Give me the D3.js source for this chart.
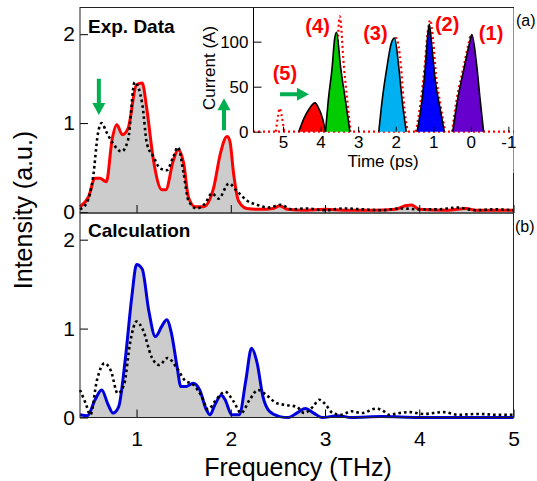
<!DOCTYPE html>
<html>
<head>
<meta charset="utf-8">
<script src="https://cdn.jsdelivr.net/npm/d3@7"></script>
<style>
body { margin: 0; background: #fff; }
svg { display: block; font-family: "Liberation Sans", Arial, sans-serif; }
</style>
</head>
<body>
<svg></svg>
<script>
// (a) measured spectrum (red) and reference (dotted)
var expFreq = [0.40,0.49,0.56,0.61,0.68,0.74,0.79,0.85,0.91,1.00,1.06,1.11,1.18,1.27,1.31,1.39,1.44,1.50,1.55,1.62,1.71,1.82,1.89,1.96,1.99,2.03,2.08,2.17,2.30,2.45,2.52,2.60,2.80,3.00,3.20,3.50,3.75,3.85,3.92,4.00,4.30,4.50,4.60,5.00];
var expRed  = [0.06,0.17,0.38,0.38,0.34,0.81,0.98,0.87,0.94,1.43,1.45,1.15,0.58,0.25,0.25,0.58,0.70,0.55,0.17,0.06,0.06,0.28,0.66,0.85,0.80,0.43,0.13,0.04,0.03,0.04,0.07,0.03,0.02,0.03,0.02,0.02,0.03,0.07,0.08,0.03,0.02,0.04,0.02,0.02];
var expRefFreq = [0.40,0.47,0.54,0.59,0.63,0.68,0.75,0.84,0.91,0.98,1.06,1.11,1.18,1.25,1.32,1.39,1.44,1.50,1.55,1.64,1.73,1.80,1.87,1.98,2.07,2.17,2.28,2.40,2.53,2.65,2.80,3.00,3.20,3.40,3.60,3.80,4.00,4.20,4.40,4.60,4.80,5.00];
var expRef     = [0.03,0.10,0.40,0.88,1.00,0.90,0.77,0.68,0.81,1.46,1.22,0.77,0.62,0.49,0.47,0.62,0.73,0.43,0.13,0.04,0.10,0.21,0.15,0.32,0.23,0.13,0.08,0.05,0.08,0.03,0.04,0.02,0.04,0.03,0.02,0.04,0.03,0.03,0.05,0.02,0.03,0.02];

// (b) calculated spectrum (blue) and reference (dotted)
var calcFreq = [0.40,0.48,0.56,0.63,0.70,0.75,0.81,0.88,0.95,1.00,1.06,1.13,1.20,1.27,1.32,1.37,1.43,1.47,1.53,1.60,1.67,1.74,1.78,1.83,1.90,1.94,2.01,2.09,2.16,2.22,2.28,2.34,2.41,2.52,2.61,2.70,2.79,2.88,2.97,3.14,3.28,3.60,4.00,5.00];
var calcBlue = [0.03,0.02,0.20,0.31,0.14,0.05,0.12,0.65,1.36,1.72,1.67,1.20,0.91,1.03,1.10,0.95,0.57,0.35,0.35,0.385,0.31,0.09,0.03,0.14,0.25,0.20,0.03,0.03,0.42,0.78,0.61,0.24,0.07,0.01,0.00,0.05,0.10,0.05,0.00,0.02,0.00,0.01,0.00,0.00];
var calcRefFreq = [0.40,0.46,0.51,0.58,0.66,0.73,0.80,0.87,0.93,1.00,1.07,1.16,1.24,1.33,1.42,1.51,1.60,1.69,1.76,1.83,1.94,2.03,2.11,2.20,2.29,2.38,2.49,2.59,2.70,2.78,2.87,2.94,3.01,3.08,3.17,3.28,3.39,3.54,3.61,3.68,3.79,3.90,4.04,4.26,4.41,4.62,4.84,5.00];
var calcRef     = [0.31,0.16,0.03,0.42,0.61,0.52,0.27,0.38,0.83,1.08,0.98,0.68,0.59,0.67,0.57,0.42,0.37,0.24,0.09,0.18,0.29,0.18,0.05,0.20,0.31,0.25,0.16,0.14,0.12,0.05,0.12,0.20,0.14,0.05,0.03,0.07,0.05,0.10,0.08,0.03,0.05,0.06,0.04,0.06,0.03,0.04,0.03,0.03];

// inset: current profiles [time ps, current A]
var redPulse    = [[4.58,0],[4.44,15],[4.31,25],[4.15,32],[4.04,25],[3.95,15],[3.87,0]];
var greenPulse  = [[3.87,0],[3.795,35],[3.69,72.6],[3.63,102],[3.575,110.4],[3.47,72.6],[3.34,35],[3.22,0]];
var cyanPulse   = [[2.45,0],[2.36,35],[2.23,72.6],[2.12,98],[2.03,104],[1.92,72.6],[1.83,35],[1.72,0]];
var bluePulse   = [[1.43,0],[1.30,35],[1.21,72.6],[1.15,106],[1.105,119.7],[1.035,94],[0.947,57.4],[0.81,24],[0.707,0]];
var violetPulse = [[0.48,0],[0.354,35],[0.168,72.6],[0.036,98],[-0.028,108],[-0.16,72.6],[-0.25,35],[-0.34,0]];
var meas5 = [[5.19,0],[5.13,18.5],[5.09,26],[5.04,18.5],[4.97,0]];
var meas4 = [[3.62,0],[3.58,60],[3.53,110],[3.49,128],[3.38,72.6],[3.29,35],[3.20,0]];
var meas3 = [[2.42,0],[2.30,40],[2.15,88],[1.99,104],[1.86,72.6],[1.79,35],[1.68,0]];
var meas2 = [[1.46,0],[1.33,35],[1.23,72.6],[1.15,110],[1.08,124],[1.00,100],[0.93,65],[0.80,28],[0.68,0]];
var meas1 = [[0.50,0],[0.38,35],[0.19,72.6],[0.06,98],[-0.01,108],[-0.10,85],[-0.20,40],[-0.30,0]];
var measBase = [[5.8,0],[-1.15,0]];

var pulseLabels = ['(1)','(2)','(3)','(4)','(5)'];
var freqTicks = [1,2,3,4,5];
var intTicks = [0,1,2];
var timeTicks = [5,4,3,2,1,0,-1];
var currTicks = [0,50,100];

var width = 537, height = 481;
var svg = d3.select('svg').attr('width', width).attr('height', height);

var x = d3.scaleLinear().domain([0.4, 5]).range([80, 513.5]);
var yA = d3.scaleLinear().domain([0, 2.3]).range([212, 7.5]);
var yB = d3.scaleLinear().domain([0, 2.3]).range([417.5, 213]);
var xi = d3.scaleLinear().domain([5.8, -1.15]).range([253, 514]);
var yi = d3.scaleLinear().domain([0, 137.4]).range([131.7, 8]);

var green = '#00b050';
var plain = d => String(d).replace('\u2212', '-');

function zip(a, b) { return a.map((d, i) => [d, b[i]]); }

function panel(y, freq, vals, refFreq, ref, color) {
  var g = svg.append('g');
  var pts = zip(freq, vals);
  g.append('path')
    .attr('fill', '#cccccc')
    .attr('d', d3.area().x(d => x(d[0])).y0(y(0)).y1(d => y(d[1])).curve(d3.curveMonotoneX)(pts));
  g.append('path')
    .attr('fill', 'none')
    .attr('stroke', color)
    .attr('stroke-width', 3)
    .attr('d', d3.line().x(d => x(d[0])).y(d => y(d[1])).curve(d3.curveMonotoneX)(pts));
  g.append('path')
    .attr('fill', 'none')
    .attr('stroke', '#000')
    .attr('stroke-width', 2.6)
    .attr('stroke-dasharray', '2.6,3')
    .attr('d', d3.line().x(d => x(d[0])).y(d => y(d[1])).curve(d3.curveMonotoneX)(zip(refFreq, ref)));

  var ya = g.append('g')
    .attr('transform', 'translate(80,0)')
    .call(d3.axisLeft(y).tickValues(intTicks).tickSize(-8).tickPadding(5).tickFormat(plain));
  ya.select('.domain').remove();
  ya.selectAll('text').style('font-size', '21px').attr('fill', '#000');
  return g;
}

panel(yA, expFreq, expRed, expRefFreq, expRef, '#ff0000');
panel(yB, calcFreq, calcBlue, calcRefFreq, calcRef, '#0000dd');

// x axes
var xa = svg.append('g')
  .attr('transform', 'translate(0,' + 213 + ')')
  .call(d3.axisBottom(x).tickValues(freqTicks).tickSize(-8).tickFormat(''));
xa.select('.domain').remove();
var xb = svg.append('g')
  .attr('transform', 'translate(0,' + 417.5 + ')')
  .call(d3.axisBottom(x).tickValues(freqTicks).tickSize(-8).tickPadding(14).tickFormat(plain));
xb.select('.domain').remove();
xb.selectAll('text').style('font-size', '21px').attr('fill', '#000');

// frames
svg.append('rect').attr('x', 80).attr('y', 7.5).attr('width', 433.5).attr('height', 205.5)
  .attr('fill', 'none').attr('stroke', '#222');
svg.append('rect').attr('x', 80).attr('y', 213).attr('width', 433.5).attr('height', 204.5)
  .attr('fill', 'none').attr('stroke', '#222');

// titles
svg.append('text').attr('x', 298).attr('y', 476).attr('text-anchor', 'middle')
  .style('font-size', '25px').text('Frequency (THz)');
svg.append('text').attr('transform', 'translate(32,210) rotate(-90)').attr('text-anchor', 'middle')
  .style('font-size', '25px').text('Intensity (a.u.)');
svg.append('text').attr('x', 88).attr('y', 33).style('font-size', '19px').style('font-weight', 'bold').text('Exp. Data');
svg.append('text').attr('x', 88).attr('y', 237).style('font-size', '19px').style('font-weight', 'bold').text('Calculation');
svg.append('text').attr('x', 516).attr('y', 26).style('font-size', '16px').text('(a)');
svg.append('text').attr('x', 515).attr('y', 232).style('font-size', '16px').text('(b)');

// inset
var inset = svg.append('g');
inset.append('rect').attr('x', 253.5).attr('y', 8).attr('width', 260).attr('height', 165).attr('fill', '#fff');

var iline = d3.line().x(d => xi(d[0])).y(d => yi(d[1])).curve(d3.curveMonotoneX);
var iarea = d3.area().x(d => xi(d[0])).y0(yi(0)).y1(d => yi(d[1])).curve(d3.curveMonotoneX);

[measBase, meas5, meas4, meas3, meas2, meas1].forEach(function(m) {
  inset.append('path')
    .attr('fill', 'none')
    .attr('stroke', '#ff0000')
    .attr('stroke-width', 2.2)
    .attr('stroke-dasharray', '2,3')
    .attr('d', iline(m));
});

var pulses = [redPulse, greenPulse, cyanPulse, bluePulse, violetPulse];
var pulseColors = ['#ff0000', '#00cc00', '#00b0f0', '#0000ff', '#6600cc'];
pulses.forEach(function(p, i) {
  inset.append('path').attr('fill', pulseColors[i]).attr('d', iarea(p));
  inset.append('path').attr('fill', 'none').attr('stroke', '#000').attr('stroke-width', 1.6).attr('d', iline(p));
});

var ixa = inset.append('g')
  .attr('transform', 'translate(0,' + yi(0) + ')')
  .call(d3.axisBottom(xi).tickValues(timeTicks).tickSize(-5).tickPadding(4).tickFormat(plain));
ixa.select('.domain').remove();
ixa.selectAll('text').style('font-size', '17px').attr('fill', '#000');

var iya = inset.append('g')
  .attr('transform', 'translate(253.5,0)')
  .call(d3.axisLeft(yi).tickValues(currTicks).tickSize(-8).tickSizeOuter(0).tickPadding(5).tickFormat(plain));
iya.select('.domain').attr('d', 'M0,' + yi(0) + 'V8');
iya.selectAll('text').style('font-size', '17px').attr('fill', '#000');

inset.append('text').attr('x', 383).attr('y', 167).attr('text-anchor', 'middle')
  .style('font-size', '17px').text('Time (ps)');
inset.append('text').attr('transform', 'translate(215,68) rotate(-90)').attr('text-anchor', 'middle')
  .style('font-size', '17px').text('Current (A)');

var labelT = [-0.54, 0.63, 2.54, 4.08, 4.95];
var labelI = [102, 112, 102, 110, 57];
pulseLabels.forEach(function(l, i) {
  inset.append('text')
    .attr('x', xi(labelT[i])).attr('y', yi(labelI[i]))
    .attr('text-anchor', 'middle')
    .attr('fill', '#ff0000')
    .style('font-size', '20px').style('font-weight', 'bold')
    .text(l);
});

// green arrows: [x0, y0, x1, y1] in pixels from the scales
var arrows = [
  [x(0.6), yA(1.50), x(0.6), yA(1.09)],
  [x(1.928), yA(0.92), x(1.928), yA(1.28)],
  [xi(5.08), yi(41.5), xi(4.31), yi(41.5)]
];
arrows.forEach(function(a) {
  var dx = a[2] - a[0], dy = a[3] - a[1];
  var len = Math.sqrt(dx * dx + dy * dy);
  var ux = dx / len, uy = dy / len, nx = -uy, ny = ux;
  var hl = 12, sw = 2, hw = 6.5;
  var bx = a[2] - ux * hl, by = a[3] - uy * hl;
  var p = [
    [a[0] + nx * sw, a[1] + ny * sw],
    [bx + nx * sw, by + ny * sw],
    [bx + nx * hw, by + ny * hw],
    [a[2], a[3]],
    [bx - nx * hw, by - ny * hw],
    [bx - nx * sw, by - ny * sw],
    [a[0] - nx * sw, a[1] - ny * sw]
  ];
  svg.append('path').attr('fill', green).attr('d', 'M' + p.join('L') + 'Z');
});
</script>
</body>
</html>
